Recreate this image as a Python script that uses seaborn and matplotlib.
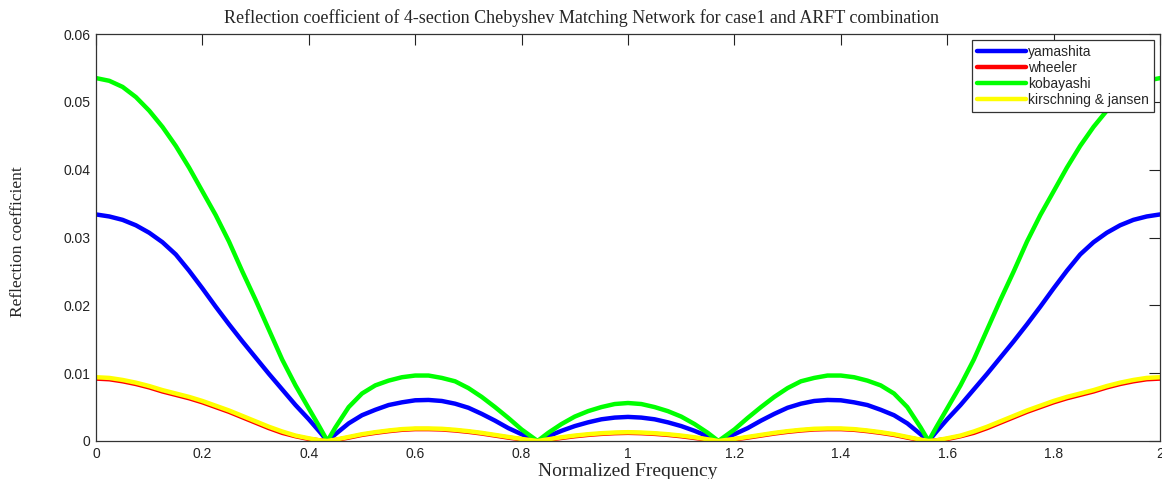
import matplotlib
matplotlib.use("Agg")
import matplotlib.pyplot as plt
import seaborn as sns
import pandas as pd

# Normalized frequency sample points
freq = [0.000, 0.025, 0.050, 0.075, 0.100, 0.125, 0.150, 0.175, 0.200, 0.225,
        0.250, 0.275, 0.300, 0.325, 0.350, 0.375, 0.400, 0.420, 0.435, 0.450,
        0.475, 0.500, 0.525, 0.550, 0.575, 0.600, 0.625, 0.650, 0.675, 0.700,
        0.725, 0.750, 0.775, 0.800, 0.830, 0.850, 0.875, 0.900, 0.925, 0.950,
        0.975, 1.000,
        1.025, 1.050, 1.075, 1.100, 1.125, 1.150, 1.170, 1.200, 1.225, 1.250,
        1.275, 1.300, 1.325, 1.350, 1.375, 1.400, 1.425, 1.450, 1.475, 1.500,
        1.525, 1.550, 1.565, 1.580, 1.600, 1.625, 1.650, 1.675, 1.700, 1.725,
        1.750, 1.775, 1.800, 1.825, 1.850, 1.875, 1.900, 1.925, 1.950, 1.975,
        2.000]

# Reflection coefficient values (in units of 0.01)
yamashita = [3.34, 3.31, 3.26, 3.18, 3.07, 2.93, 2.75, 2.51, 2.25, 1.98,
             1.72, 1.47, 1.23, 0.99, 0.76, 0.53, 0.32, 0.14, 0.00, 0.10,
             0.26, 0.38, 0.46, 0.53, 0.57, 0.60, 0.605, 0.59, 0.55, 0.49,
             0.40, 0.30, 0.19, 0.10, 0.00, 0.07, 0.15, 0.22, 0.275, 0.32,
             0.345, 0.355,
             0.345, 0.32, 0.275, 0.22, 0.15, 0.07, 0.00, 0.10, 0.19, 0.30,
             0.40, 0.49, 0.55, 0.59, 0.605, 0.60, 0.57, 0.53, 0.46, 0.38,
             0.26, 0.10, 0.00, 0.14, 0.32, 0.53, 0.76, 0.99, 1.23, 1.47,
             1.72, 1.98, 2.25, 2.51, 2.75, 2.93, 3.07, 3.18, 3.26, 3.31,
             3.34]
wheeler = [0.92, 0.91, 0.88, 0.84, 0.79, 0.73, 0.68, 0.63, 0.57, 0.50,
           0.43, 0.35, 0.27, 0.19, 0.12, 0.07, 0.03, 0.01, 0.00, 0.015,
           0.05, 0.09, 0.12, 0.145, 0.165, 0.175, 0.175, 0.17, 0.155, 0.135,
           0.11, 0.08, 0.05, 0.025, 0.00, 0.02, 0.045, 0.07, 0.09, 0.105,
           0.115, 0.12,
           0.115, 0.105, 0.09, 0.07, 0.045, 0.02, 0.00, 0.025, 0.05, 0.08,
           0.11, 0.135, 0.155, 0.17, 0.175, 0.175, 0.165, 0.145, 0.12, 0.09,
           0.05, 0.015, 0.00, 0.01, 0.03, 0.07, 0.12, 0.19, 0.27, 0.35,
           0.43, 0.50, 0.57, 0.63, 0.68, 0.73, 0.79, 0.84, 0.88, 0.91,
           0.92]
kobayashi = [5.35, 5.31, 5.22, 5.07, 4.87, 4.63, 4.35, 4.03, 3.68, 3.33,
             2.94, 2.50, 2.08, 1.64, 1.20, 0.82, 0.48, 0.21, 0.00, 0.20,
             0.50, 0.70, 0.82, 0.89, 0.94, 0.965, 0.965, 0.93, 0.88, 0.78,
             0.65, 0.50, 0.34, 0.17, 0.00, 0.12, 0.25, 0.36, 0.44, 0.50,
             0.545, 0.56,
             0.545, 0.50, 0.44, 0.36, 0.25, 0.12, 0.00, 0.17, 0.34, 0.50,
             0.65, 0.78, 0.88, 0.93, 0.965, 0.965, 0.94, 0.89, 0.82, 0.70,
             0.50, 0.20, 0.00, 0.21, 0.48, 0.82, 1.20, 1.64, 2.08, 2.50,
             2.94, 3.33, 3.68, 4.03, 4.35, 4.63, 4.87, 5.07, 5.22, 5.31,
             5.35]
kirschning = [0.94, 0.93, 0.90, 0.86, 0.81, 0.75, 0.70, 0.65, 0.59, 0.52,
              0.45, 0.37, 0.29, 0.21, 0.14, 0.08, 0.04, 0.01, 0.00, 0.02,
              0.06, 0.10, 0.13, 0.155, 0.175, 0.185, 0.185, 0.18, 0.165, 0.145,
              0.12, 0.09, 0.06, 0.03, 0.00, 0.025, 0.055, 0.08, 0.10, 0.115,
              0.125, 0.13,
              0.125, 0.115, 0.10, 0.08, 0.055, 0.025, 0.00, 0.03, 0.06, 0.09,
              0.12, 0.145, 0.165, 0.18, 0.185, 0.185, 0.175, 0.155, 0.13, 0.10,
              0.06, 0.02, 0.00, 0.01, 0.04, 0.08, 0.14, 0.21, 0.29, 0.37,
              0.45, 0.52, 0.59, 0.65, 0.70, 0.75, 0.81, 0.86, 0.90, 0.93,
              0.94]

series_names = ["yamashita", "wheeler", "kobayashi", "kirschning & jansen"]
series_vals = [yamashita, wheeler, kobayashi, kirschning]
colors = ["#0000ff", "#ff0000", "#00ff00", "#ffff00"]

xticks = [0, 0.2, 0.4, 0.6, 0.8, 1.0, 1.2, 1.4, 1.6, 1.8, 2.0]
xticklabels = ["0", "0.2", "0.4", "0.6", "0.8", "1", "1.2", "1.4", "1.6", "1.8", "2"]
yticks = [0, 0.01, 0.02, 0.03, 0.04, 0.05, 0.06]
yticklabels = ["0", "0.01", "0.02", "0.03", "0.04", "0.05", "0.06"]

frames = []
for name, vals in zip(series_names, series_vals):
    frames.append(pd.DataFrame({"freq": freq,
                                "gamma": [v * 0.01 for v in vals],
                                "series": name}))
df = pd.concat(frames, ignore_index=True)

sns.set_style("white")
plt.rcParams["font.family"] = ["Liberation Sans", "DejaVu Sans"]

fig = plt.figure(figsize=(11.62, 4.79), dpi=100)
ax = fig.add_axes([96 / 1162, 1 - 441 / 479, (1160 - 96) / 1162, (441 - 34) / 479])

sns.lineplot(data=df, x="freq", y="gamma", hue="series", hue_order=series_names,
             palette=colors, sort=False, linewidth=3.2, ax=ax, legend=False,
             estimator=None)

ax.set_xlim(0, 2)
ax.set_ylim(0, 0.06)
ax.set_xticks(xticks)
ax.set_xticklabels(xticklabels)
ax.set_yticks(yticks)
ax.set_yticklabels(yticklabels)
ax.tick_params(direction="in", length=8, width=0.8, top=True, right=True,
               labelsize=10, colors="#222222", pad=4)
for s in ax.spines.values():
    s.set_visible(True)
    s.set_color("#333333")
    s.set_linewidth(0.9)

serif = ["Liberation Serif", "DejaVu Serif"]
ax.set_xlabel("Normalized Frequency", family=serif, fontsize=14, labelpad=2)
ax.set_ylabel("Reflection coefficient", family=serif, fontsize=12.5)
ax.yaxis.set_label_coords((26 - 96) / 1064, 0.49)
fig.text(0.5, 1 - 18 / 479,
         "Reflection coefficient of 4-section Chebyshev Matching Network for case1 and ARFT combination",
         family=serif, fontsize=13, ha="center", va="center")

handles = [plt.Line2D([], [], color=c, lw=3.2) for c in colors]
leg = ax.legend(handles, series_names, loc="upper right", fontsize=10,
                frameon=True, fancybox=False, edgecolor="#333333", framealpha=1,
                borderaxespad=0.43, handlelength=3.5, handletextpad=0.2,
                labelspacing=0.15, borderpad=0.35)
leg.get_frame().set_linewidth(0.9)

fig.savefig("out.png", dpi=100)
